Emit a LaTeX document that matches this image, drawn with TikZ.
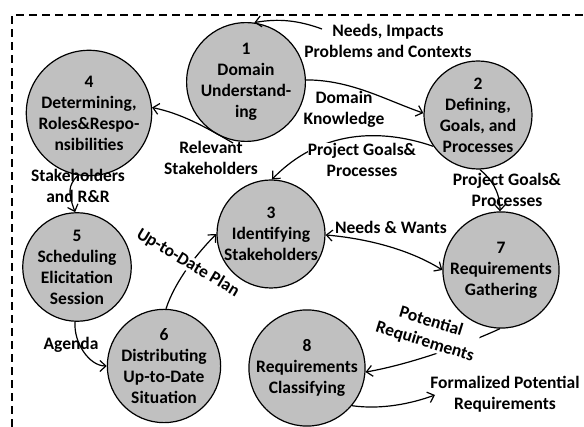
\documentclass[tikz,border=0pt]{standalone}
\usepackage{fontspec}
\setmainfont{Carlito}
\usetikzlibrary{arrows.meta}
\definecolor{circfill}{RGB}{192,192,192}
\newcommand\lblfont{\fontsize{17.5}{21}\selectfont\bfseries}
\begin{document}
\begin{tikzpicture}[x=1pt,y=-1pt,
  proc/.style={circle, draw=black, line width=1.2pt, fill=circfill, minimum size=108pt, inner sep=0pt, align=center, font=\lblfont},
  lab/.style={align=center, font=\lblfont, inner sep=1pt},
  wlab/.style={lab, fill=white, inner sep=0pt},
  conn/.style={line width=1.2pt, -{Straight Barb[length=6pt,width=11pt]}},
  bconn/.style={line width=1.2pt, {Straight Barb[length=6pt,width=11pt]}-{Straight Barb[length=6pt,width=11pt]}},
  frame/.style={line width=1.3pt, dash pattern=on 8pt off 5pt}]
\useasboundingbox (0,0) rectangle (584,427);
\draw[frame] (12,427) -- (12,15) -- (584,15);

\node[proc] (c1) at (246,82) {1\\Domain\\Understand-\\ing};
\node[proc] (c2) at (478,115) {2\\Defining,\\Goals, and\\Processes};
\node[proc] (c3) at (271,234) {3\\Identifying\\Stakeholders};
\node[proc] (c4) at (89,113) {4\\Determining,\\Roles\&Respo-\\nsibilities};
\node[proc] (c5) at (77,267) {5\\Scheduling\\Elicitation\\Session};
\node[proc] (c6) at (164,366) {6\\Distributing\\Up-to-Date\\Situation};
\node[proc] (c7) at (501,270) {7\\Requirements\\Gathering};
\node[proc] (c8) at (307,368) {8\\Requirements\\Classifying};

\coordinate (n0) at (322,29);
\coordinate (r0) at (233,143);
\coordinate (f0) at (435,395);

\node[lab] (needs) at (388,41) {Needs, Impacts\\Problems and Contexts};
\node[lab] (dk) at (344,109) {Domain\\Knowledge};
\node[lab] (rs) at (211,158) {Relevant\\Stakeholders};
\node[lab] (sr) at (78,186) {Stakeholders\\and R\&R};
\node[lab] (ag) at (71,345) {Agenda};
\node[lab] (nw) at (391,227) {Needs \& Wants};
\node[lab] (pg2) at (507,190) {Project Goals\&\\Processes};
\node[lab] (formal) at (505,394) {Formalized Potential\\Requirements};

\draw[conn] (n0) .. controls +(160:25pt) and +(10:25pt) .. (c1.82);
\draw[conn] (c1.2) .. controls +(0:45pt) and +(161:40pt) .. (c2.178);
\draw[conn] (c2.215) .. controls (380,128) and (320,130) .. (c3.89);
\node[wlab] (pg1) at (362,160) {Project Goals\&\\Processes};
\draw[conn] (r0) .. controls +(150:35pt) and +(-12:30pt) .. (c4.5);
\draw[conn] (c4.260) .. controls +(225:15pt) and +(110:20pt) .. (c5.92);
\draw[conn] (c5.-92) .. controls +(-95:20pt) and +(180:18pt) .. (c6.180);
\draw[conn] (c6.88) .. controls +(72:30pt) and +(225:25pt) .. (c3.180);
\node[wlab, rotate=-31] (ud) at (188,263) {Up-to-Date Plan};
\draw[bconn] (c3.-1) .. controls +(-5:40pt) and +(148:40pt) .. (c7.180);
\draw[conn] (c2.-88) .. controls +(-40:15pt) and +(90:20pt) .. (c7.91);
\draw[conn] (c7.-91) .. controls +(205:30pt) and +(10:50pt) .. (c8.-4);
\node[wlab, rotate=-17] (pr) at (428,332) {Potential\\Requirements};
\draw[conn] (c8.-40) .. controls +(-8:30pt) and +(200:25pt) .. (f0);
\end{tikzpicture}
\end{document}
